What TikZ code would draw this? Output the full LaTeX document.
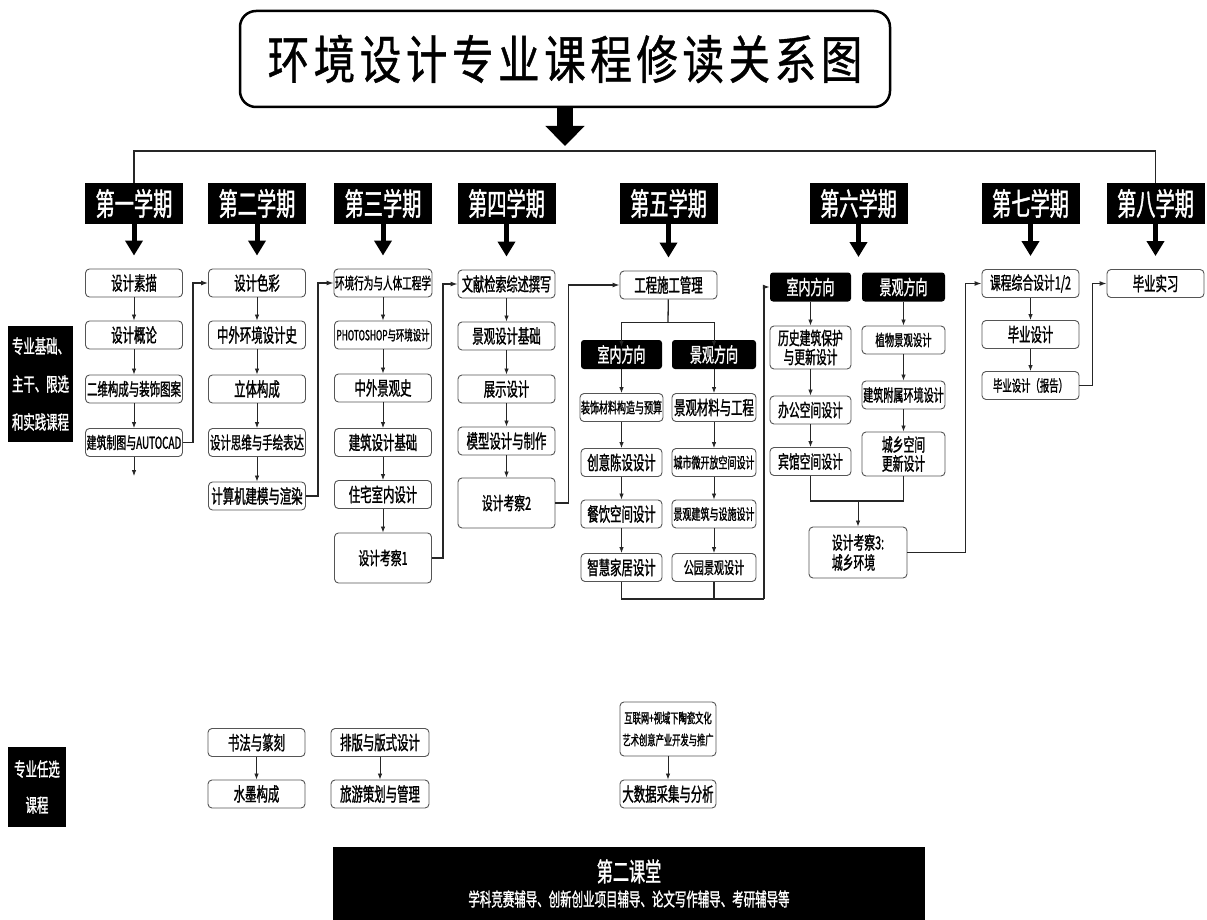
\documentclass[tikz,border=0pt]{standalone}
\usepackage{fontspec}
\setmainfont{Noto Sans CJK SC}[FakeStretch=0.6, FakeBold=1.2]
\newfontfamily\narrowcjk{Noto Sans CJK SC}[FakeStretch=0.62, FakeBold=1.2]
\newfontfamily\titlecjk{Noto Sans CJK SC}[FakeStretch=0.8, FakeBold=0.8]
\usetikzlibrary{arrows.meta, positioning, calc}
\definecolor{boxline}{RGB}{85,85,85}
\newcommand\tsp{\hspace{4.5pt}}

\begin{document}
\begin{tikzpicture}[
			x=1pt, y=-1pt,
			fs/.style={font=\fontsize{#1}{#1}\selectfont},
			course/.style={
				draw=boxline,
				line width=0.9pt,
				rounded corners=4pt,
				fill=white,
				minimum width=97pt,
				minimum height=28pt,
				inner sep=1pt,
				fs=19
			},
			term/.style={
				fill=black,
				text=white,
				minimum width=98pt,
				minimum height=41pt,
				inner sep=0pt,
				font=\narrowcjk\fontsize{31}{31}\selectfont
			},
			dirbox/.style={
				fill=black,
				text=white,
				rounded corners=3pt,
				minimum height=29pt,
				inner sep=0pt,
				fs=20
			},
			sidebox/.style={
				fill=black,
				text=white,
				inner sep=0pt
			},
			flow/.style={
				draw=black!85,
				line width=0.8pt,
				-{Latex[length=6pt,width=4.5pt]}
			},
			link/.style={
				draw=black!85,
				line width=1.3pt,
				-{Latex[length=7pt,width=5pt]}
			},
			tie/.style={
				draw=black!85,
				line width=1.3pt
			},
			termarrow/.style={
				draw=black,
				line width=5pt,
				-{Triangle[length=15pt,width=17pt]}
			}
			]
			\useasboundingbox (0,0) rectangle (1207,920);
			
			% Title
			\node[draw=black, line width=2.5pt, rounded corners=16pt, minimum width=650pt, minimum height=96pt, font=\titlecjk\fontsize{52}{52}\selectfont] (title) at (565,59)
			{环\tsp 境\tsp 设\tsp 计\tsp 专\tsp 业\tsp 课\tsp 程\tsp 修\tsp 读\tsp 关\tsp 系\tsp 图};
			\coordinate (hub) at (565,151);
			
			% Semesters
			\node[term] (s1) at (134,203.5) {第一学期};
			\node[term] (s2) at (257,203.5) {第二学期};
			\node[term] (s3) at (383,203.5) {第三学期};
			\node[term] (s4) at (506.5,203.5) {第四学期};
			\node[term] (s5) at (668.5,203.5) {第五学期};
			\node[term] (s6) at (858.5,203.5) {第六学期};
			\node[term] (s7) at (1030.5,203.5) {第七学期};
			\node[term] (s8) at (1155.5,203.5) {第八学期};
			\coordinate (s6end) at (858.5,257);
			
			% Side labels
			\node[sidebox, minimum width=65pt, minimum height=116pt, align=left, font=\fontsize{19}{38}\selectfont] (core) at (40.5,384)
			{专业基础、\\主干、限选\\和实践课程};
			\node[sidebox, minimum width=58pt, minimum height=80pt, align=center, font=\fontsize{19}{36}\selectfont] (free) at (37,787)
			{专业任选\\课程};
			
			% Semester 1
			\node[course] (c1a) at (134,283) {设计素描};
			\node[course] (c1b) at (134,335) {设计概论};
			\node[course, fs=17.4] (c1c) at (134,389) {二维构成与装饰图案};
			\node[course, fs=16.5] (c1d) at (134,442.5) {建筑制图与AUTOCAD};
			\coordinate (c1end) at (134,476);
			
			% Semester 2
			\node[course] (c2a) at (257,283) {设计色彩};
			\node[course] (c2b) at (257,335) {中外环境设计史};
			\node[course] (c2c) at (257,389) {立体构成};
			\node[course, fs=17.4] (c2d) at (257,442.5) {设计思维与手绘表达};
			\node[course] (c2e) at (257,496) {计算机建模与渲染};
			
			% Semester 3
			\node[course, fs=16] (c3a) at (383,283) {环境行为与人体工程学};
			\node[course, fs=14] (c3b) at (383,335) {PHOTOSHOP与环境设计};
			\node[course] (c3c) at (383,388) {中外景观史};
			\node[course] (c3d) at (383,442.5) {建筑设计基础};
			\node[course] (c3e) at (383,494.5) {住宅室内设计};
			\node[course, minimum height=50pt, fs=18] (c3f) at (383,558) {设计考察1};
			
			% Semester 4
			\node[course, fs=18.6] (c4a) at (506.5,284) {文献检索综述撰写};
			\node[course] (c4b) at (506.5,336) {景观设计基础};
			\node[course] (c4c) at (506.5,389) {展示设计};
			\node[course] (c4d) at (506.5,441) {模型设计与制作};
			\node[course, minimum height=50pt, fs=18] (c4e) at (506.5,503) {设计考察2};
			
			% Semester 5
			\node[course] (c5) at (668.5,285) {工程施工管理};
			\coordinate (j5top) at (668,322);
			\node[dirbox, minimum width=81pt] (d5a0) at (621.5,354.5) {室内方向};
			\node[dirbox, minimum width=84pt] (d5b0) at (714,354.5) {景观方向};
			\node[course, minimum width=81pt, fs=15] (d5a1) at (621.5,407.5) {装饰材料构造与预算};
			\node[course, minimum width=81pt] (d5a2) at (621.5,462.5) {创意陈设设计};
			\node[course, minimum width=81pt] (d5a3) at (621.5,514) {餐饮空间设计};
			\node[course, minimum width=81pt] (d5a4) at (621.5,567.5) {智慧家居设计};
			\node[course, minimum width=84pt] (d5b1) at (714,407.5) {景观材料与工程};
			\node[course, minimum width=84pt, fs=15] (d5b2) at (714,462.5) {城市微开放空间设计};
			\node[course, minimum width=84pt, fs=15] (d5b3) at (714,514) {景观建筑与设施设计};
			\node[course, minimum width=84pt, fs=16.8] (d5b4) at (714,567.5) {公园景观设计};
			\coordinate (j5) at (764,599);
			
			% Semester 6
			\node[dirbox, minimum width=81pt] (d6a0) at (810.5,287) {室内方向};
			\node[dirbox, minimum width=83pt] (d6b0) at (903.5,287) {景观方向};
			\node[course, minimum width=81pt, minimum height=43pt, align=center, font=\fontsize{18}{19}\selectfont] (d6a1) at (810.5,347.5) {历史建筑保护\\与更新设计};
			\node[course, minimum width=81pt, fs=18] (d6a2) at (810.5,410) {办公空间设计};
			\node[course, minimum width=81pt, fs=18] (d6a3) at (810.5,461.5) {宾馆空间设计};
			\node[course, minimum width=83pt, fs=15.6] (d6b1) at (903.5,340) {植物景观设计};
			\node[course, minimum width=83pt, fs=16.8] (d6b2) at (903.5,395) {建筑附属环境设计};
			\node[course, minimum width=83pt, minimum height=44pt, align=center, font=\fontsize{18}{19}\selectfont] (d6b3) at (903.5,454) {城乡空间\\更新设计};
			\coordinate (j6) at (858,501);
			\node[course, minimum width=98pt, minimum height=51pt, align=left, font=\fontsize{18}{20}\selectfont] (d6c) at (858,552.5) {设计考察3:\\城乡环境};
			
			% Semester 7 and 8
			\node[course, fs=18] (c7a) at (1030.5,283.5) {课程综合设计1/2};
			\node[course] (c7b) at (1030.5,334.5) {毕业设计};
			\node[course, fs=15.6] (c7c) at (1030.5,385.5) {毕业设计（报告）};
			\node[course] (c8a) at (1155.5,283.5) {毕业实习};
			
			% Electives
			\node[course] (e1) at (256.5,742.5) {书法与篆刻};
			\node[course] (e2) at (256.5,794) {水墨构成};
			\node[course, minimum width=98pt] (e3) at (380,742.5) {排版与版式设计};
			\node[course, minimum width=98pt] (e4) at (380,794) {旅游策划与管理};
			\node[course, minimum width=96pt, minimum height=54pt, align=center, font=\fontsize{13.8}{22}\selectfont] (e5) at (668,729) {互联网+视域下陶瓷文化\\艺术创意产业开发与推广};
			\node[course, minimum width=96pt] (e6) at (668,794) {大数据采集与分析};
			
			% Second classroom
			\node[fill=black, text=white, minimum width=592pt, minimum height=73pt, align=center, font=\narrowcjk] (extra) at (629,883.5)
			{{\fontsize{26}{29}\selectfont 第二课堂}\\[6pt]{\fontsize{18.5}{20}\selectfont 学科竞赛辅导、创新创业项目辅导、论文写作辅导、考研辅导等}};
			
			% Arrows
			\draw[draw=black, line width=16pt, -{Triangle[length=20pt,width=38pt]}, shorten >=5pt] (title) -- (hub);
			\draw[tie] (s1.north) |- (hub) -| (s8.north);
			\draw[termarrow, shorten >=13pt] (s1) -- (c1a);
			\draw[termarrow, shorten >=13pt] (s2) -- (c2a);
			\draw[termarrow, shorten >=13pt] (s3) -- (c3a);
			\draw[termarrow, shorten >=13pt] (s4) -- (c4a);
			\draw[termarrow, shorten >=13pt] (s5) -- (c5);
			\draw[termarrow] (s6) -- (s6end);
			\draw[termarrow, shorten >=13pt] (s7) -- (c7a);
			\draw[termarrow, shorten >=13pt] (s8) -- (c8a);
			
			\draw[flow] (c1a) -- (c1b);
			\draw[flow] (c1b) -- (c1c);
			\draw[flow] (c1c) -- (c1d);
			\draw[flow] (c1d) -- (c1end);
			\draw[flow] (c2a) -- (c2b);
			\draw[flow] (c2b) -- (c2c);
			\draw[flow] (c2c) -- (c2d);
			\draw[flow] (c2d) -- (c2e);
			\draw[flow] (c3a) -- (c3b);
			\draw[flow] (c3b) -- (c3c);
			\draw[flow] (c3c) -- (c3d);
			\draw[flow] (c3d) -- (c3e);
			\draw[flow] (c3e) -- (c3f);
			\draw[flow] (c4a) -- (c4b);
			\draw[flow] (c4b) -- (c4c);
			\draw[flow] (c4c) -- (c4d);
			\draw[flow] (c4d) -- (c4e);
			
			\draw[tie] (c5) -- (j5top);
			\draw[flow] (j5top) -| ([yshift=-7pt]d5a0.north);
			\draw[flow] (j5top) -| ([yshift=-7pt]d5b0.north);
			\draw[flow] (d5a0) -- (d5a1);
			\draw[flow] (d5a1) -- (d5a2);
			\draw[flow] (d5a2) -- (d5a3);
			\draw[flow] (d5a3) -- (d5a4);
			\draw[flow] (d5b0) -- (d5b1);
			\draw[flow] (d5b1) -- (d5b2);
			\draw[flow] (d5b2) -- (d5b3);
			\draw[flow] (d5b3) -- (d5b4);
			\draw[tie] (d5a4.south) |- (j5);
			\draw[tie] (d5b4.south) -- (d5b4.south |- j5);
			
			\draw[flow] (d6a0) -- (d6a1);
			\draw[flow] (d6a1) -- (d6a2);
			\draw[flow] (d6a2) -- (d6a3);
			\draw[flow] (d6b0) -- (d6b1);
			\draw[flow] (d6b1) -- (d6b2);
			\draw[flow] (d6b2) -- (d6b3);
			\draw[tie] (d6a3.south) |- (j6) -| (d6b3.south);
			\draw[flow] (j6) -- (d6c);
			
			\draw[flow] (c7a) -- (c7b);
			\draw[flow] (c7b) -- (c7c);
			
			\draw[flow] (e1) -- (e2);
			\draw[flow] (e3) -- (e4);
			\draw[flow] (e5) -- (e6);
			
			% Links between semesters
			\draw[link] (c1d.east) -- ++(10,0) |- (c2a.west);
			\draw[link] (c2e.east) -- ++(12,0) |- (c3a.west);
			\draw[link] (c3f.east) -- ++(11,0) |- (c4a.west);
			\draw[link] (c4e.east) -- ++(13,0) |- (c5.west);
			\draw[link] (j5) |- (d6a0.west);
			\draw[link] (d6c.east) -- ++(58,0) |- (c7a.west);
			\draw[link] (c7c.east) -- ++(13,0) |- (c8a.west);
		\end{tikzpicture}
\end{document}
